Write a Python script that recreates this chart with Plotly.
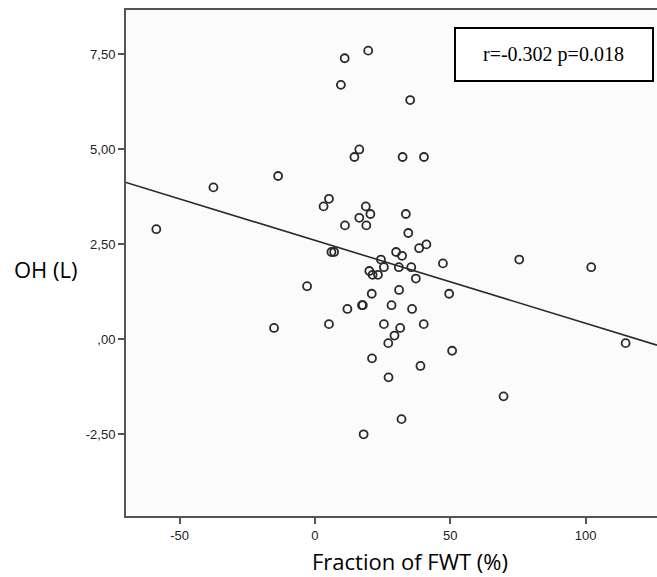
import numpy as np
import plotly.graph_objects as go

# Fraction of FWT (%)
fwt = [-58.6, -37.5, -13.6, -15.1, -2.9, 3.2, 5.2, 5.2, 6.1, 7.1,
       9.6, 11.0, 11.1, 12.0, 14.6, 16.4, 16.4, 17.4, 17.7, 18.0,
       18.8, 19.7, 19.0, 20.1, 20.5, 21.0, 21.1, 21.3, 23.3, 24.4,
       25.5, 25.5, 27.1, 27.2, 28.3, 29.4, 30.0, 31.0, 31.1, 31.5,
       32.0, 32.2, 32.4, 33.6, 34.5, 35.2, 35.6, 35.9, 37.3, 38.5,
       39.0, 40.2, 40.3, 41.2, 47.3, 49.6, 50.7, 69.7, 75.5, 102.1,
       114.8]
# OH (L)
oh = [2.9, 4.0, 4.3, 0.3, 1.4, 3.5, 3.7, 0.4, 2.3, 2.3,
      6.7, 7.4, 3.0, 0.8, 4.8, 5.0, 3.2, 0.9, 0.9, -2.5,
      3.5, 7.6, 3.0, 1.8, 3.3, 1.2, -0.5, 1.7, 1.7, 2.1,
      1.9, 0.4, -0.1, -1.0, 0.9, 0.1, 2.3, 1.9, 1.3, 0.3,
      -2.1, 2.2, 4.8, 3.3, 2.8, 6.3, 1.9, 0.8, 1.6, 2.4,
      -0.7, 0.4, 4.8, 2.5, 2.0, 1.2, -0.3, -1.5, 2.1, 1.9,
      -0.1]

x_ticks = [-50, 0, 50, 100]
x_ticktext = ["-50", "0", "50", "100"]
y_ticks = [-2.5, 0, 2.5, 5, 7.5]
y_ticktext = ["-2,50", ",00", "2,50", "5,00", "7,50"]
stat_text = "r=-0.302 p=0.018"

x_range = [-69.8, 126.4]
y_range = [-4.65, 8.67]

slope, intercept = np.polyfit(fwt, oh, 1)
line_x = np.array(x_range)
line_y = slope * line_x + intercept

fig = go.Figure()
fig.add_trace(go.Scatter(
    x=line_x, y=line_y, mode="lines",
    line=dict(color="#2a2a2a", width=1.6), hoverinfo="skip", showlegend=False))
fig.add_trace(go.Scatter(
    x=fwt, y=oh, mode="markers",
    marker=dict(symbol="circle-open", size=8, color="#2a2a2a",
                line=dict(width=1.8, color="#2a2a2a")),
    showlegend=False))

tick_font = dict(family="Liberation Sans", size=13, color="#222")
fig.update_layout(
    width=657, height=577,
    margin=dict(l=126, r=0, t=10, b=61, autoexpand=False),
    paper_bgcolor="white", plot_bgcolor="#fbfbfb",
    xaxis=dict(range=x_range, tickvals=x_ticks, ticktext=x_ticktext,
               showgrid=False, zeroline=False, showline=True, linecolor="#555",
               linewidth=2, mirror=True, ticks="outside", ticklen=6, tickwidth=2,
               tickcolor="#555", tickfont=tick_font),
    yaxis=dict(range=y_range, tickvals=y_ticks, ticktext=y_ticktext,
               showgrid=False, zeroline=False, showline=True, linecolor="#555",
               linewidth=2, ticks="outside", ticklen=6, tickwidth=2,
               tickcolor="#555", tickfont=tick_font),
    shapes=[dict(type="rect", xref="paper", yref="paper",
                 x0=0.6196, x1=0.9925, y0=0.8597, y1=0.9644,
                 line=dict(color="black", width=2), fillcolor="white", layer="below")],
    annotations=[
        dict(text=stat_text, xref="paper", yref="paper", x=0.806, y=0.912,
             xanchor="center", yanchor="middle", showarrow=False,
             font=dict(family="Liberation Serif", size=20, color="black")),
        dict(text="OH (L)", xref="paper", yref="paper", x=-0.1516, y=0.488,
             xanchor="center", yanchor="middle", showarrow=False,
             font=dict(family="Open Sans", size=22, color="black")),
        dict(text="Fraction of FWT (%)", xref="paper", yref="paper", x=0.535, y=-0.089,
             xanchor="center", yanchor="middle", showarrow=False, borderpad=0,
             font=dict(family="Open Sans", size=22, color="black")),
    ],
)
fig.write_html(
    "out.html",
    config={"displayModeBar": False},
    post_script="document.body.style.margin='0';document.body.style.overflow='hidden';",
)
